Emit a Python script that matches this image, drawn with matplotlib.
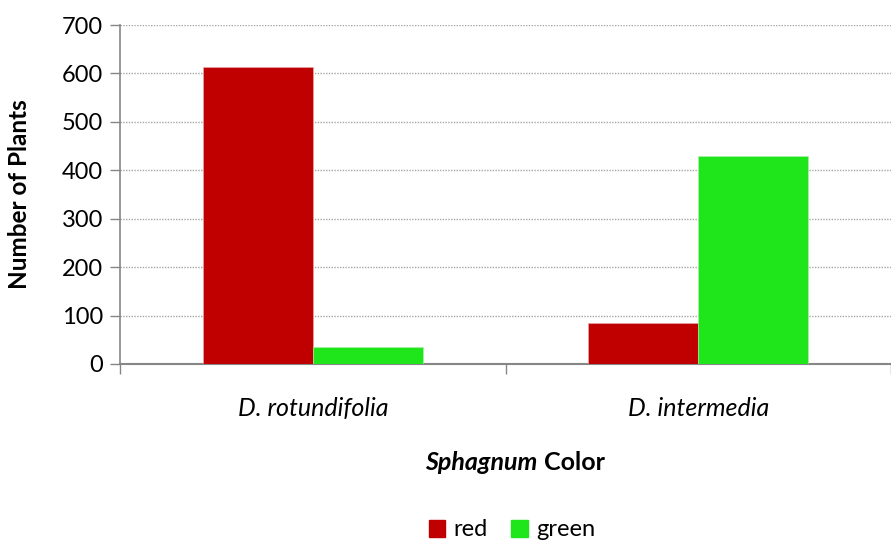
import numpy as np
import matplotlib
matplotlib.use("Agg")
import matplotlib.pyplot as plt
from matplotlib.patches import Patch

# values
species = ["D. rotundifolia", "D. intermedia"]
series_names = ["red", "green"]
red_counts = [613, 84]
green_counts = [35, 429]
colors = ["#C00000", "#1EE61A"]
ticks_y = [0, 100, 200, 300, 400, 500, 600, 700]

plt.rcParams["font.family"] = ["Lato", "DejaVu Sans"]

fig = plt.figure(figsize=(8.91, 5.44), dpi=100)
ax = fig.add_axes([120 / 891, 1 - 364 / 544, (891 - 120) / 891, 339 / 544])

x = np.arange(len(species))
w = 0.285
ax.bar(x - w / 2, red_counts, w, color=colors[0], edgecolor="#E8B0B0", linewidth=0.4, zorder=3)
ax.bar(x + w / 2, green_counts, w, color=colors[1], edgecolor="#B0F0B0", linewidth=0.4, zorder=3)

ax.set_ylim(0, 700)
ax.set_xlim(-0.5, -0.5 + (891 - 120) / 391)
ax.set_yticks(ticks_y)
ax.set_yticklabels([str(t) for t in ticks_y], fontsize=17)
ax.yaxis.grid(True, linestyle=(0, (1, 1)), color="#A6A6A6", linewidth=1.0, zorder=0)

# category boundary ticks on x axis
ax.set_xticks([-0.5, 0.5, 1.5])
ax.set_xticklabels([])
ax.tick_params(axis="x", length=7, width=1, color="#868686", direction="out")
ax.tick_params(axis="y", length=7, width=1, color="#868686", direction="out", pad=5)
for i, name in enumerate(species):
    ax.text(i, -0.13, name, transform=ax.get_xaxis_transform(), ha="center", va="center",
            fontsize=18, style="italic")

for s in ["top", "right"]:
    ax.spines[s].set_visible(False)
ax.spines["left"].set_color("#868686")
ax.spines["bottom"].set_color("#868686")
ax.spines["bottom"].set_linewidth(1.5)
ax.spines["left"].set_linewidth(1.2)

fig.text(20 / 891, 1 - 194 / 544, "Number of Plants", rotation=90, ha="center", va="center",
         fontsize=17.5, fontweight="bold")

# x axis title: italic "Sphagnum" + regular " Color"
fig.text(537 / 891, 1 - 462 / 544, "Sphagnum", ha="right", va="center", fontsize=18,
         fontweight="bold", style="italic")
fig.text(544 / 891, 1 - 462 / 544, "Color", ha="left", va="center", fontsize=18,
         fontweight="bold")

handles = [Patch(facecolor=c, edgecolor=c) for c in colors]
fig.legend(handles, series_names, loc="center", bbox_to_anchor=(512 / 891, 1 - 530 / 544),
           ncol=2, frameon=False, fontsize=17, handlelength=0.7, handleheight=0.7,
           handletextpad=0.35, columnspacing=1.0, borderpad=0)

fig.savefig("out.png", dpi=100)
